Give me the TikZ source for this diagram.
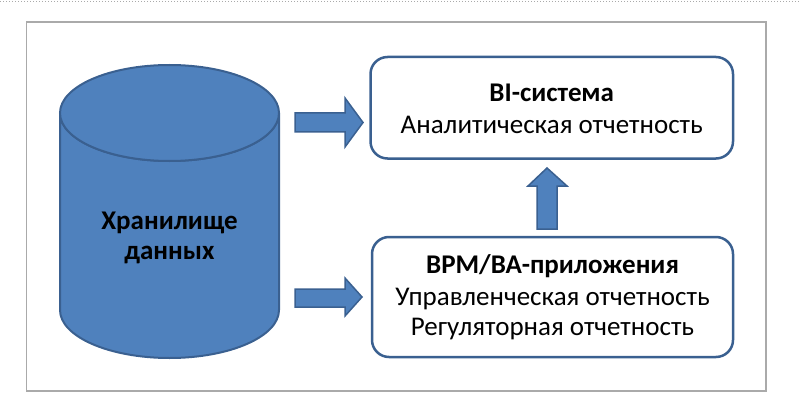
\documentclass[tikz,border=0pt]{standalone}
\usepackage{fontspec}
\setmainfont{Carlito}
\definecolor{fillblue}{HTML}{4F81BD}
\definecolor{edgeblue}{HTML}{3A6090}
\definecolor{framegray}{HTML}{AAAAAA}
\begin{document}
\begin{tikzpicture}[x=1pt,y=-1pt,
  box/.style={draw=edgeblue, line width=2.5pt, rounded corners=17pt, fill=white},
  barrow/.style={draw=edgeblue, line width=1.5pt, fill=fillblue, line join=miter},
  cyl/.style={draw=edgeblue, line width=2pt, fill=fillblue},
  txt/.style={font=\fontsize{27}{31}\selectfont, anchor=base, inner sep=0pt},
  bold/.style={txt, font=\fontsize{27}{31}\selectfont\bfseries}]
\useasboundingbox (0,0) rectangle (800,417);
\draw[framegray, dotted, line width=1pt] (0,2) -- (800,2);
\draw[framegray, line width=1.5pt] (26.5,22) rectangle (766,391);
% cylinder
\draw[cyl] (60,113) -- (60,310) arc[start angle=180, end angle=0, x radius=109.5, y radius=48]
  -- (279,113) arc[start angle=0, end angle=180, x radius=109.5, y radius=48] -- cycle;
\draw[cyl] (169.5,113) ellipse [x radius=109.5, y radius=48];
\node[bold] (dw1) at (169.5,229) {Хранилище};
\node[bold] (dw2) at (169.5,259) {данных};
% boxes
\draw[box] (370.5,57) rectangle (733,158.5);
\node[bold] (bi1) at (551.75,102) {BI-система};
\node[txt] (bi2) at (551.75,133) {Аналитическая отчетность};
\draw[box] (372,237) rectangle (733,357);
\node[bold] (bp1) at (552.5,273) {BPM/BA-приложения};
\node[txt] (bp2) at (552.5,305) {Управленческая отчетность};
\node[txt] (bp3) at (552.5,335) {Регуляторная отчетность};
% block arrows
\draw[barrow] (295,113) -- (345,113) -- (345,98) -- (363,122.5) -- (345,147) -- (345,132) -- (295,132) -- cycle;
\draw[barrow] (295,289) -- (345,289) -- (345,278) -- (362,297) -- (345,316) -- (345,307) -- (295,307) -- cycle;
\draw[barrow] (537,229) -- (537,186) -- (528,186) -- (547,168) -- (567,186) -- (557,186) -- (557,229) -- cycle;
\end{tikzpicture}
\end{document}
